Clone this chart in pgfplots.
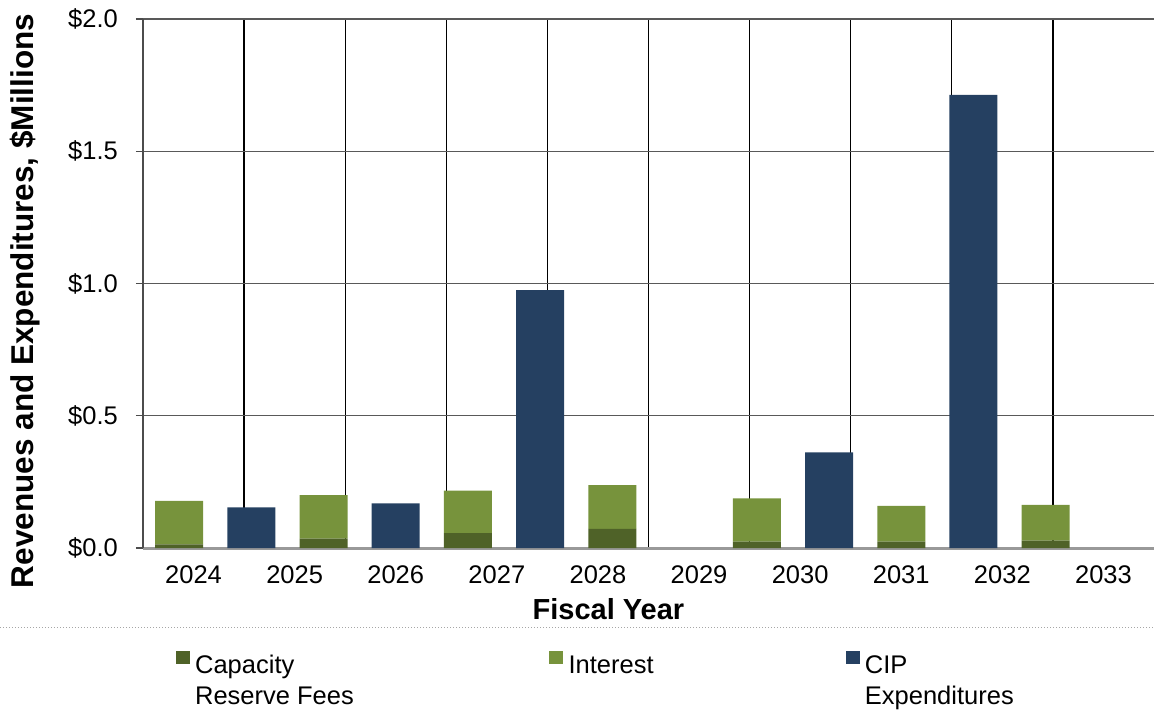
\documentclass[border=0pt]{standalone}
\usepackage{fontspec}
\setmainfont{Liberation Sans}
\usepackage{pgfplots}
\pgfplotsset{compat=1.18}

\definecolor{capfee}{HTML}{4F6228}
\definecolor{interest}{HTML}{77933C}
\definecolor{cip}{HTML}{254061}

\begin{document}
\begin{tikzpicture}[font=\fontsize{25}{31}\selectfont]
\path[use as bounding box] (-143pt,-173pt) rectangle (1011pt,548pt);
\begin{axis}[
  at={(0,0)}, anchor=south west,
  scale only axis,
  width=1011pt, height=529pt,
  xmin=0, xmax=14, ymin=0, ymax=2,
  enlargelimits=false,
  ybar stacked,
  bar width=48pt,
  axis x line*=bottom, axis y line*=left,
  x axis line style={-, draw=black!40, line width=3pt},
  y axis line style={-, draw=black!70, line width=2pt},
  xtick={0.7,2.1,3.5,4.9,6.3,7.7,9.1,10.5,11.9,13.3},
  xticklabels={2024,2025,2026,2027,2028,2029,2030,2031,2032,2033},
  xtick style={draw=none},
  minor xtick={1.4,2.8,4.2,5.6,7.0,8.4,9.8,11.2,12.6},
  minor x tick style={draw=none},
  xminorgrids=true,
  minor x grid style={black, line width=1.2pt},
  ytick={0,0.5,1,1.5,2},
  yticklabels={\$0.0,\$0.5,\$1.0,\$1.5,\$2.0},
  ymajorgrids=true,
  major y grid style={black!65, line width=1.2pt},
  ytick style={black!70, line width=1.2pt},
  tick align=outside,
  major tick length=7pt,
  tick label style={font=\fontsize{25.5}{30}\selectfont},
  yticklabel style={anchor=east, inner sep=0pt, xshift=-18pt},
  xticklabel style={anchor=base, inner sep=0pt, yshift=-28pt},
  xlabel={Fiscal Year},
  xlabel style={font=\fontsize{29}{30}\selectfont\bfseries,
    at={(axis description cs:0.4604,0)}, anchor=base, yshift=-71pt},
  ylabel={Revenues and Expenditures, \$Millions},
  ylabel style={font=\fontsize{31.5}{32}\selectfont\bfseries,
    at={(axis description cs:-0.1167,0.467)}, anchor=center},
  legend columns=3,
  legend cell align=left,
  legend style={at={(axis description cs:0.0322,-0.195)}, anchor=north west,
    draw=none, fill=none, inner sep=0pt,
    nodes={inner sep=0pt, font=\fontsize{25.5}{31}\selectfont},
    /tikz/every odd column/.append style={column sep=5.4pt}},
  legend image code/.code={\fill[#1] (0pt,1pt) rectangle (14pt,14pt);},
]
% Capacity reserve fees (bottom of the revenue stacks)
\addplot+[fill=capfee, draw=none] coordinates {
  (0.5,0.014) (1.5,0) (2.5,0.035) (3.5,0) (4.5,0.056) (5.5,0) (6.5,0.072)
  (7.5,0) (8.5,0.024) (9.5,0) (10.5,0.024) (11.5,0) (12.5,0.028) (13.5,0)};
\addlegendentry{\parbox[t]{354pt}{Capacity\\Reserve Fees}}
% Interest (top of the revenue stacks)
\addplot+[fill=interest, draw=none] coordinates {
  (0.5,0.164) (1.5,0) (2.5,0.165) (3.5,0) (4.5,0.161) (5.5,0) (6.5,0.166)
  (7.5,0) (8.5,0.164) (9.5,0) (10.5,0.135) (11.5,0) (12.5,0.135) (13.5,0)};
\addlegendentry{\parbox[t]{277pt}{Interest}}
% CIP expenditures
\addplot+[fill=cip, draw=none] coordinates {
  (0.5,0) (1.5,0.154) (2.5,0) (3.5,0.169) (4.5,0) (5.5,0.975) (6.5,0)
  (7.5,0) (8.5,0) (9.5,0.362) (10.5,0) (11.5,1.713) (12.5,0) (13.5,0)};
\addlegendentry{\parbox[t]{200pt}{CIP\\Expenditures}}
\end{axis}
\draw[black!35, line width=1pt, dotted] (-143pt,-79pt) -- (1011pt,-79pt);
\end{tikzpicture}
\end{document}
